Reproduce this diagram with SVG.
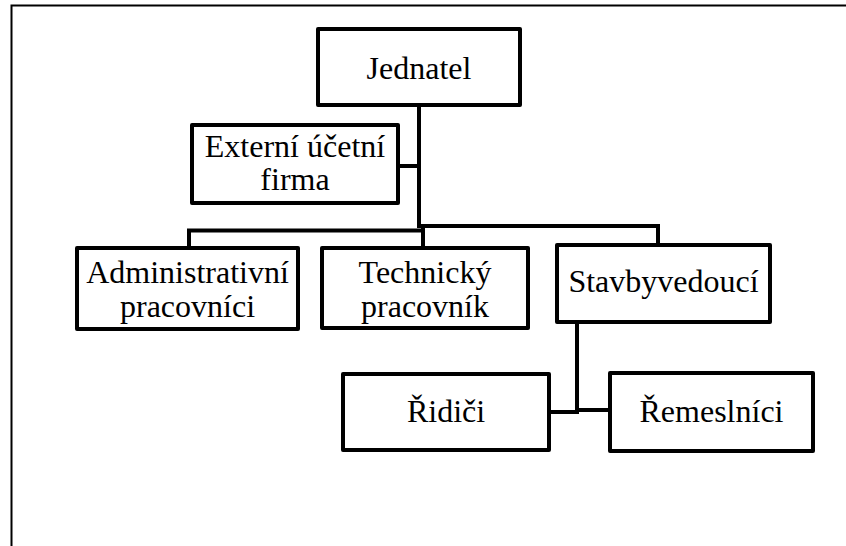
<svg xmlns="http://www.w3.org/2000/svg" width="846" height="546" viewBox="0 0 846 546">
<style>
.box{fill:#fff;stroke:#000;stroke-width:4;stroke-linejoin:round}
.lbl{font-family:"Liberation Serif",Tinos,"Noto Serif","DejaVu Serif",FreeSerif,Times,"Times New Roman",serif;font-size:32px;fill:#000;text-anchor:middle}
.con{fill:none;stroke:#000;stroke-width:4}
.frame{fill:none;stroke:#000;stroke-width:2}
</style>
<rect x="0" y="0" width="846" height="546" fill="#fff"/>
<path class="frame" d="M11.5,546 V5.5 H846"/>
<g id="connectors">
<path class="con" d="M419,105 V228"/>
<path class="con" d="M398,166 H419"/>
<path class="con" d="M189,248 V230.5 H421"/>
<path class="con" d="M417,226 H658 V245"/>
<path class="con" d="M423,226 V248"/>
<path class="con" d="M577,322 V412"/>
<path class="con" d="M549,412 H579"/>
<path class="con" d="M575,410 H610"/>
</g>
<g id="jednatel">
<rect class="box" x="318" y="29" width="202" height="76"/>
<text class="lbl" x="419" y="79">Jednatel</text>
</g>
<g id="externi">
<rect class="box" x="192" y="125" width="206" height="78"/>
<text class="lbl" x="295" y="157">Externí účetní</text>
<text class="lbl" x="295" y="190">firma</text>
</g>
<g id="administrativni">
<rect class="box" x="77" y="248" width="221" height="81"/>
<text class="lbl" x="187.5" y="283">Administrativní</text>
<text class="lbl" x="187.5" y="317">pracovníci</text>
</g>
<g id="technicky">
<rect class="box" x="322" y="248" width="206" height="80"/>
<text class="lbl" x="425" y="283">Technický</text>
<text class="lbl" x="425" y="317">pracovník</text>
</g>
<g id="stavbyvedouci">
<rect class="box" x="557" y="245" width="213" height="77"/>
<text class="lbl" x="663.5" y="292">Stavbyvedoucí</text>
</g>
<g id="ridici">
<rect class="box" x="343" y="374" width="206" height="76"/>
<text class="lbl" x="446" y="422">Řidiči</text>
</g>
<g id="remeslnici">
<rect class="box" x="610" y="373" width="203" height="78"/>
<text class="lbl" x="711.5" y="422">Řemeslníci</text>
</g>
</svg>
